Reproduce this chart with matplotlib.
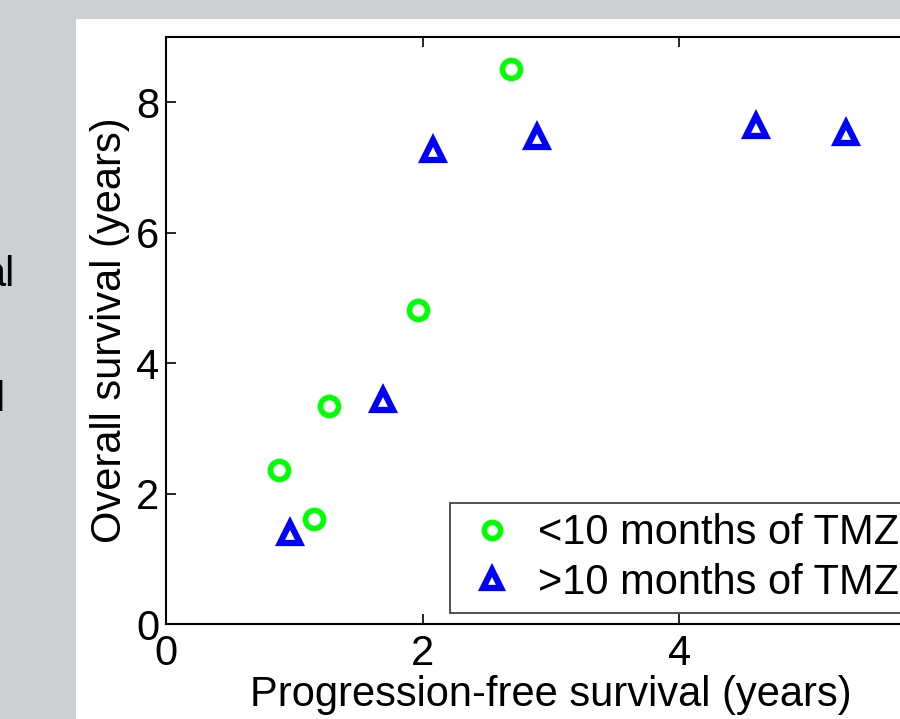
import numpy as np
import matplotlib.pyplot as plt
from matplotlib.patches import Rectangle

plt.rcParams['font.family'] = ['Liberation Sans', 'DejaVu Sans']

# data
pfs_short = [0.88, 1.15, 1.27, 1.96, 2.69]
os_short = [2.36, 1.61, 3.35, 4.82, 8.51]
pfs_long = [0.97, 1.69, 2.08, 2.89, 4.60, 5.30]
os_long = [1.39, 3.43, 7.26, 7.46, 7.63, 7.53]

fig = plt.figure(figsize=(9, 7.19), dpi=100, facecolor='#cdd0d3')
# white slide panel
fig.patches.append(Rectangle((76/900, 0), 1, 1 - 19/719, transform=fig.transFigure,
                             facecolor='white', edgecolor='none', zorder=-10))
# cut-off slide text at left
fig.text(15/900, 1 - 275/719, 'al', ha='right', va='center', fontsize=30)
fig.text(4/900, 1 - 400/719, 'd', ha='right', va='center', fontsize=30)

ax = fig.add_axes([166/900, (719-624)/719, 770/900, 587/719])
ax.set_facecolor('white')
ax.plot(pfs_short, os_short, 'o', ls='none', ms=13, mew=4, mec='#00ff00', mfc='white',
        label='<10 months of TMZ', clip_on=False)
ax.plot(pfs_long, os_long, '^', ls='none', ms=15, mew=4.5, mec='#0000ff', mfc='white',
        label='>10 months of TMZ', clip_on=False)

ax.set_xlim(0, 6)
ax.set_ylim(0, 9)
ax.set_xticks([0, 2, 4, 6])
ax.set_yticks([0, 2, 4, 6, 8])
ax.tick_params(direction='in', length=7, width=1.2, labelsize=30, top=True, right=True)
ax.tick_params(axis='x', pad=7)
ax.tick_params(axis='y', pad=5)
for s in ax.spines.values():
    s.set_linewidth(1.5)
ax.set_xlabel('Progression-free survival (years)', fontsize=30, labelpad=1)
ax.set_ylabel('Overall survival (years)', fontsize=30, labelpad=4)

leg = ax.legend(loc='lower left', bbox_to_anchor=((450-166)/770, 11/587), fontsize=30,
                frameon=True, fancybox=False, edgecolor='black', handletextpad=0.35,
                borderpad=0.25, labelspacing=0.22, handlelength=1.5, borderaxespad=0,
                markerscale=0.9)
leg.get_frame().set_linewidth(1.2)

fig.savefig('out.png', dpi=100, facecolor=fig.get_facecolor())
